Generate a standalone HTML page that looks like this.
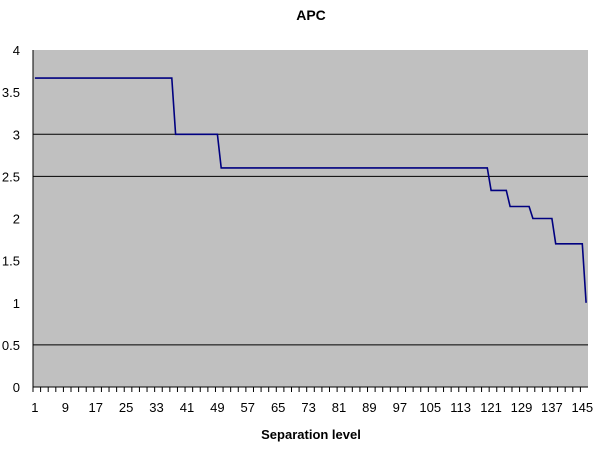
<!DOCTYPE html>
<html><head><meta charset="utf-8"><style>
body{margin:0;background:#fff;}
svg text{font-family:"Liberation Sans",Arial,sans-serif;}
</style></head><body>
<svg width="598" height="449" id="chart">
<text x="311" y="20" text-anchor="middle" font-size="14" font-weight="bold">APC</text>
<text x="311" y="439" text-anchor="middle" font-size="13" font-weight="bold">Separation level</text>
</svg>
<script>
const levels=[3.667,3.0,2.6,2.333,2.143,2.0,1.7,1.0];
const runLengths=[37,12,71,5,6,6,8,1];
const yTicks=[0,0.5,1,1.5,2,2.5,3,3.5,4];
const yTickLabels=["0","0.5","1","1.5","2","2.5","3","3.5","4"];
const gridValues=[0.5,2.5,3];
const xLabelStep=8;

const svg=document.getElementById('chart');
const NS='http://www.w3.org/2000/svg';
const L=33,R=588,T=50,B=387;
const values=[];
levels.forEach((v,i)=>{for(let k=0;k<runLengths[i];k++)values.push(v);});
const N=values.length;
const cw=(R-L)/N;
const xS=i=>L+cw*(i+0.5);
const yS=v=>B-(v/4)*(B-T);
function mk(t,a){const e=document.createElementNS(NS,t);for(const k in a)e.setAttribute(k,a[k]);svg.appendChild(e);return e;}
const bg=mk('rect',{x:L,y:T,width:R-L,height:B-T,fill:'#c0c0c0'});


gridValues.forEach(g=>{const l=mk('line',{x1:L,x2:R,y1:yS(g),y2:yS(g),stroke:'#000','stroke-width':1});

});
const ya=mk('line',{x1:L,x2:L,y1:T,y2:B,stroke:'#000'});


const xa=mk('line',{x1:L,x2:R,y1:B,y2:B,stroke:'#000'});


yTicks.forEach((v,i)=>{const t=mk('text',{x:L-13,y:yS(v)+5,'text-anchor':'end','font-size':13});t.textContent=yTickLabels[i];

});
for(let i=0;i<N;i+=2){const x=L+cw*i;const tk=mk('line',{x1:x,x2:x,y1:B,y2:B+5,stroke:'#000'});

}
for(let i=0;i<N;i+=xLabelStep){const t=mk('text',{x:xS(i),y:B+25,'text-anchor':'middle','font-size':13});t.textContent=String(i+1);

}
const pts=values.map((v,i)=>xS(i).toFixed(1)+','+yS(v).toFixed(1)).join(' ');
const pl=mk('polyline',{points:pts,fill:'none',stroke:'#000080','stroke-width':1.6});


</script>
</body></html>
